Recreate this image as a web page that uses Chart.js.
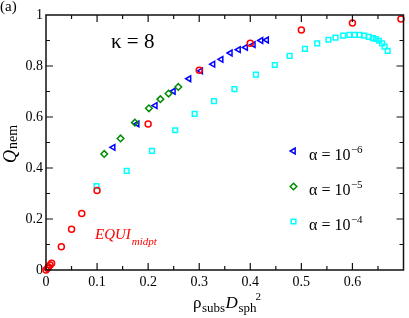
<!DOCTYPE html>
<html>
<head>
<meta charset="utf-8">
<script src="https://cdn.jsdelivr.net/npm/chart.js@4/dist/chart.umd.min.js"></script>
<style>
html,body{margin:0;padding:0;background:#fff;}
#wrap{width:409px;height:318px;position:relative;}
</style>
</head>
<body>
<div id="wrap"><canvas id="c" width="409" height="318"></canvas></div>
<script>
// ---- data ----
const xTickValues = [0, 0.1, 0.2, 0.3, 0.4, 0.5, 0.6];
const yTickValues = [0, 0.2, 0.4, 0.6, 0.8, 1];

const equiX = [0, 0.003, 0.005, 0.008, 0.011, 0.03, 0.05, 0.07, 0.1, 0.2, 0.3, 0.4, 0.5, 0.6, 0.695];
const equiY = [0, 0.007, 0.012, 0.02, 0.026, 0.091, 0.16, 0.222, 0.312, 0.573, 0.783, 0.889, 0.941, 0.969, 0.984];

const a6X = [0.1315, 0.1785, 0.214, 0.2495, 0.280, 0.303, 0.327, 0.343, 0.361, 0.377, 0.391, 0.406, 0.421, 0.432];
const a6Y = [0.481, 0.573, 0.645, 0.701, 0.750, 0.781, 0.807, 0.826, 0.851, 0.864, 0.873, 0.884, 0.900, 0.902];

const a5X = [0.114, 0.146, 0.174, 0.2015, 0.224, 0.240, 0.259];
const a5Y = [0.455, 0.516, 0.578, 0.634, 0.670, 0.692, 0.718];

const a4X = [0.099, 0.158, 0.2075, 0.253, 0.291, 0.329, 0.369, 0.411, 0.448, 0.477, 0.507, 0.531, 0.553, 0.567, 0.582, 0.594, 0.604, 0.614, 0.623, 0.632, 0.640, 0.646, 0.652, 0.658, 0.663, 0.669];
const a4Y = [0.329, 0.389, 0.467, 0.548, 0.612, 0.662, 0.709, 0.766, 0.804, 0.840, 0.867, 0.889, 0.903, 0.911, 0.919, 0.922, 0.922, 0.922, 0.919, 0.914, 0.909, 0.906, 0.899, 0.889, 0.876, 0.859];

const legendLabels = ['\u03b1 = 10', '\u03b1 = 10', '\u03b1 = 10'];
const legendExps = ['\u22126', '\u22125', '\u22124'];

const pts = (xs, ys) => xs.map((x, i) => ({x: x, y: ys[i]}));
const SERIF = '"Liberation Serif", "DejaVu Serif", serif';

const RED = '#ff0000', BLUE = '#0000ff', GREEN = '#008b00', CYAN = '#00ffff';

const styles = [
  {pointStyle: 'triangle', rotation: -90, radius: 3.3, color: BLUE},
  {pointStyle: 'rectRot', rotation: 0, radius: 3.3, color: GREEN},
  {pointStyle: 'rect', rotation: 0, radius: 3.3, color: CYAN}
];

function fmt(v) {
  const r = Math.round(v * 10) / 10;
  if (r === 0) return '0';
  if (r === 1) return '1';
  return r.toFixed(1);
}

const decor = {
  id: 'decor',
  afterDraw(chart) {
    const ctx = chart.ctx;
    const xs = chart.scales.x, ys = chart.scales.y;
    const L = chart.chartArea.left, R = chart.chartArea.right, T = chart.chartArea.top, B = chart.chartArea.bottom;
    ctx.save();
    ctx.strokeStyle = '#111';
    ctx.lineWidth = 1.5;
    ctx.strokeRect(L, T, R - L, B - T);
    ctx.lineWidth = 1.2;
    ctx.beginPath();
    // x ticks (major 0.1, minor 0.05), inward on bottom & top
    for (let k = 1; k < 14; k++) {
      const v = k * 0.05;
      const px = xs.getPixelForValue(v);
      const len = (k % 2 === 0) ? 7 : 4;
      ctx.moveTo(px, B); ctx.lineTo(px, B - len);
      ctx.moveTo(px, T); ctx.lineTo(px, T + len);
    }
    // y ticks (major 0.2, minor 0.1), inward on left & right
    for (let k = 1; k < 10; k++) {
      const v = k * 0.1;
      const py = ys.getPixelForValue(v);
      const len = (k % 2 === 0) ? 7 : 4;
      ctx.moveTo(L, py); ctx.lineTo(L + len, py);
      ctx.moveTo(R, py); ctx.lineTo(R - len, py);
    }
    ctx.stroke();

    ctx.fillStyle = '#000';
    ctx.textBaseline = 'alphabetic';
    ctx.textAlign = 'left';
    // (a)
    ctx.font = '15px ' + SERIF;
    ctx.fillText('(a)', 0, 11);
    // kappa = 8
    ctx.font = '21px ' + SERIF;
    ctx.fillText('\u03ba = 8', 111, 48);

    // EQUI_midpt
    ctx.fillStyle = RED;
    ctx.font = 'italic 15px ' + SERIF;
    ctx.fillText('EQUI', 95, 239);
    const wE = ctx.measureText('EQUI').width;
    ctx.font = 'italic 11px ' + SERIF;
    ctx.fillText('midpt', 95 + wE + 1, 245);

    // legend
    ctx.fillStyle = '#000';
    const rowsY = [151, 186.5, 221.5];
    for (let i = 0; i < 3; i++) {
      const st = styles[i];
      ctx.strokeStyle = st.color;
      ctx.fillStyle = 'rgba(0,0,0,0)';
      ctx.lineWidth = 1.5;
      if (Chart.helpers && Chart.helpers.drawPoint) {
        Chart.helpers.drawPoint(ctx, {pointStyle: st.pointStyle, rotation: st.rotation, radius: st.radius, borderWidth: 1.5}, 293.5, rowsY[i]);
      }
      ctx.fillStyle = '#000';
      ctx.font = '16px ' + SERIF;
      const base = rowsY[i] + 8.5;
      ctx.fillText(legendLabels[i], 309, base);
      const w = ctx.measureText(legendLabels[i]).width;
      ctx.font = '11px ' + SERIF;
      ctx.fillText(legendExps[i], 309 + w + 0.5, base - 7);
    }

    // y-axis title Q_nem (rotated)
    ctx.save();
    ctx.translate(16, 141);
    ctx.rotate(-Math.PI / 2);
    ctx.font = 'italic 18px ' + SERIF;
    ctx.fillText('Q', -22, 0);
    const wQ = ctx.measureText('Q').width;
    ctx.font = '14px ' + SERIF;
    ctx.fillText('nem', -22 + wQ + 1, 1);
    ctx.restore();

    // x-axis title rho_subs D_sph^2
    let x0 = 193;
    ctx.font = '17px ' + SERIF;
    ctx.fillText('\u03c1', x0, 308);
    x0 += ctx.measureText('\u03c1').width + 0.5;
    ctx.font = '13px ' + SERIF;
    ctx.fillText('subs', x0, 312);
    x0 += ctx.measureText('subs').width + 0.5;
    ctx.font = 'italic 17px ' + SERIF;
    ctx.fillText('D', x0, 308);
    x0 += ctx.measureText('D').width + 0.5;
    ctx.font = '13px ' + SERIF;
    ctx.fillText('sph', x0, 312);
    ctx.font = '11px ' + SERIF;
    ctx.fillText('2', 255.5, 300);
    ctx.restore();
  }
};

const ds = (label, xs, ys, color, style, rot, r) => ({
  label: label,
  data: pts(xs, ys),
  showLine: false,
  pointStyle: style,
  rotation: rot,
  radius: r,
  pointRadius: r,
  borderColor: color,
  backgroundColor: 'rgba(0,0,0,0)',
  borderWidth: 1.5,
  pointBorderWidth: 1.5,
  clip: false
});

new Chart(document.getElementById('c'), {
  type: 'scatter',
  data: {
    datasets: [
      ds('EQUI_midpt', equiX, equiY, RED, 'circle', 0, 3),
      ds('alpha=1e-5', a5X, a5Y, GREEN, 'rectRot', 0, 3.3),
      ds('alpha=1e-6', a6X, a6Y, BLUE, 'triangle', -90, 3.3),
      ds('alpha=1e-4', a4X, a4Y, CYAN, 'rect', 0, 3.3)
    ]
  },
  options: {
    responsive: false,
    animation: false,
    devicePixelRatio: 1,
    layout: {padding: {top: 15, right: 1, left: 0, bottom: 0}},
    plugins: {legend: {display: false}, tooltip: {enabled: false}},
    scales: {
      x: {
        type: 'linear', min: 0, max: 0.7,
        afterBuildTicks: s => { s.ticks = xTickValues.map(v => ({value: v})); },
        afterFit: s => { s.height = 48; },
        grid: {display: false, drawTicks: false},
        border: {display: false},
        ticks: {color: '#000', font: {family: SERIF, size: 14}, padding: 4, maxRotation: 0, autoSkip: false, callback: v => fmt(v)}
      },
      y: {
        type: 'linear', min: 0, max: 1,
        afterBuildTicks: s => { s.ticks = yTickValues.map(v => ({value: v})); },
        afterFit: s => { s.width = 46; },
        grid: {display: false, drawTicks: false},
        border: {display: false},
        ticks: {color: '#000', font: {family: SERIF, size: 14}, padding: 3, autoSkip: false, callback: v => fmt(v)}
      }
    }
  },
  plugins: [decor]
});
</script>
</body>
</html>
